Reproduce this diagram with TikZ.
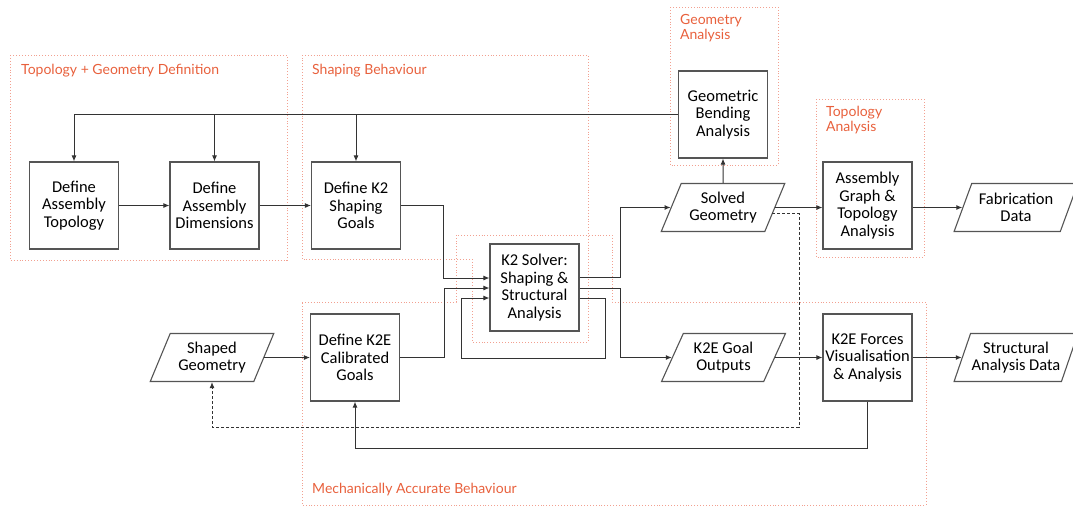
\documentclass[tikz,border=0pt]{standalone}
\usepackage{fontspec}
\setmainfont{Carlito}
\newfontfamily\grpfont{Lato}
\usetikzlibrary{arrows.meta,positioning,shapes.geometric}

\definecolor{grpred}{HTML}{E8603C}
\definecolor{grpline}{HTML}{F2A090}
\definecolor{boxline}{HTML}{555555}
\definecolor{arrline}{HTML}{333333}

\begin{document}
\begin{tikzpicture}[x=1pt, y=-1pt,
    procbox/.style={draw=boxline, line width=1.1pt, fill=white, minimum width=89pt,
      minimum height=87pt, align=center, inner sep=0pt, font=\fontsize{16.5}{17.5}\selectfont},
    databox/.style={trapezium, trapezium left angle=63, trapezium right angle=117,
      trapezium stretches=true, draw=boxline, line width=1.1pt, fill=white,
      minimum width=124pt, minimum height=48pt, align=center, inner sep=0pt,
      font=\fontsize{16.5}{17.5}\selectfont},
    group/.style={draw=grpline, dotted, line width=0.9pt},
    grplabel/.style={text=grpred, anchor=north west, inner sep=0pt, align=left,
      font=\grpfont\fontsize{14}{15}\selectfont},
    flow/.style={draw=arrline, line width=1pt, -{Latex[length=6pt,width=5pt]}},
    feedback/.style={flow, densely dashed}]

    \useasboundingbox (0,0) rectangle (1073,507);

    % Group regions
    \draw[group] (10,55) rectangle (287,260);
    \node[grplabel] (lbltopgeo) at (21,64) {Topology + Geometry Definition};

    \draw[group] (302,55) -- (588,55) -- (588,342) -- (472,342) -- (472,259) -- (302,259) -- cycle;
    \node[grplabel] (lblshaping) at (312,64) {Shaping Behaviour};

    \draw[group] (302,302) -- (456,302) -- (456,235) -- (612,235) -- (612,302)
      -- (926,302) -- (926,505) -- (302,505) -- cycle;
    \node[grplabel] (lblmech) at (312,483) {Mechanically Accurate Behaviour};

    \draw[group] (670,7) rectangle (778,165);
    \node[grplabel] (lblgeoan) at (680,14) {Geometry\\Analysis};

    \draw[group] (816,99) rectangle (924,257);
    \node[grplabel] (lbltopan) at (826,106) {Topology\\Analysis};

    % Process boxes
    \node[procbox] (topo) at (74,205.5) {Define\\Assembly\\Topology};
    \node[procbox] (dims) at (214.5,205.5) {Define\\Assembly\\Dimensions};
    \node[procbox] (k2goals) at (356,205.5) {Define K2\\Shaping\\Goals};
    \node[procbox] (solver) at (534.5,287.5) {K2 Solver:\\Shaping \&\\Structural\\Analysis};
    \node[procbox] (bending) at (723,114.5) {Geometric\\Bending\\Analysis};
    \node[procbox] (graph) at (867.5,205.5) {Assembly\\Graph \&\\Topology\\Analysis};
    \node[procbox] (k2egoals) at (355,357.5) {Define K2E\\Calibrated\\Goals};
    \node[procbox] (forces) at (867.5,357.5) {K2E Forces\\Visualisation\\\& Analysis};

    % Data boxes
    \node[databox] (solved) at (723,207.5) {Solved\\Geometry};
    \node[databox] (fabdata) at (1016,207.5) {Fabrication\\Data};
    \node[databox] (shaped) at (212,357.5) {Shaped\\Geometry};
    \node[databox] (k2eout) at (723.5,357.5) {K2E Goal\\Outputs};
    \node[databox] (structdata) at (1016,357.5) {Structural\\Analysis Data};

    % Top feedback line
    \draw[flow] (bending.west) -| (topo.north);
    \draw[flow] (dims.north |- bending.west) -- (dims.north);
    \draw[flow] (k2goals.north |- bending.west) -- (k2goals.north);

    % Definition chain
    \draw[flow] (topo.east) -- (dims.west);
    \draw[flow] (dims.east) -- (k2goals.west);
    \draw[flow] (shaped.right side) -- (shaped.right side -| k2egoals.west);

    % Into the solver
    \draw[flow] (k2goals.east) -- ++(42,0) |- ([yshift=9.5pt]solver.west);
    \draw[flow] (k2egoals.east) -- ++(44,0) |- ([yshift=-0.5pt]solver.west);
    \coordinate (loopR) at (605,358);
    \coordinate (loopL) at (461,358);
    \draw[flow] ([yshift=-10.5pt]solver.east) -| (loopR) -- (loopL) |- ([yshift=-10.5pt]solver.west);

    % Out of the solver
    \draw[flow] ([yshift=10.5pt]solver.east) -- ++(41,0) |- (solved.left side);
    \draw[flow] ([yshift=-0.5pt]solver.east) -- ++(41,0) |- (k2eout.left side);

    % Analysis outputs
    \draw[flow] (solved.north) -- (bending.south);
    \draw[flow] (solved.right side) -- (solved.right side -| graph.west);
    \draw[flow] (graph.east |- fabdata.left side) -- (fabdata.left side);
    \draw[flow] (k2eout.right side) -- (k2eout.right side -| forces.west);
    \draw[flow] (forces.east) -- (structdata.left side);

    % Return lines
    \draw[flow] (forces.south) -- ++(0,47) -| (k2egoals.south);
    \coordinate (dashR) at (799,427);
    \draw[feedback] ([xshift=-3pt,yshift=-6pt]solved.right side) -| (dashR) -| (shaped.south);
\end{tikzpicture}
\end{document}
